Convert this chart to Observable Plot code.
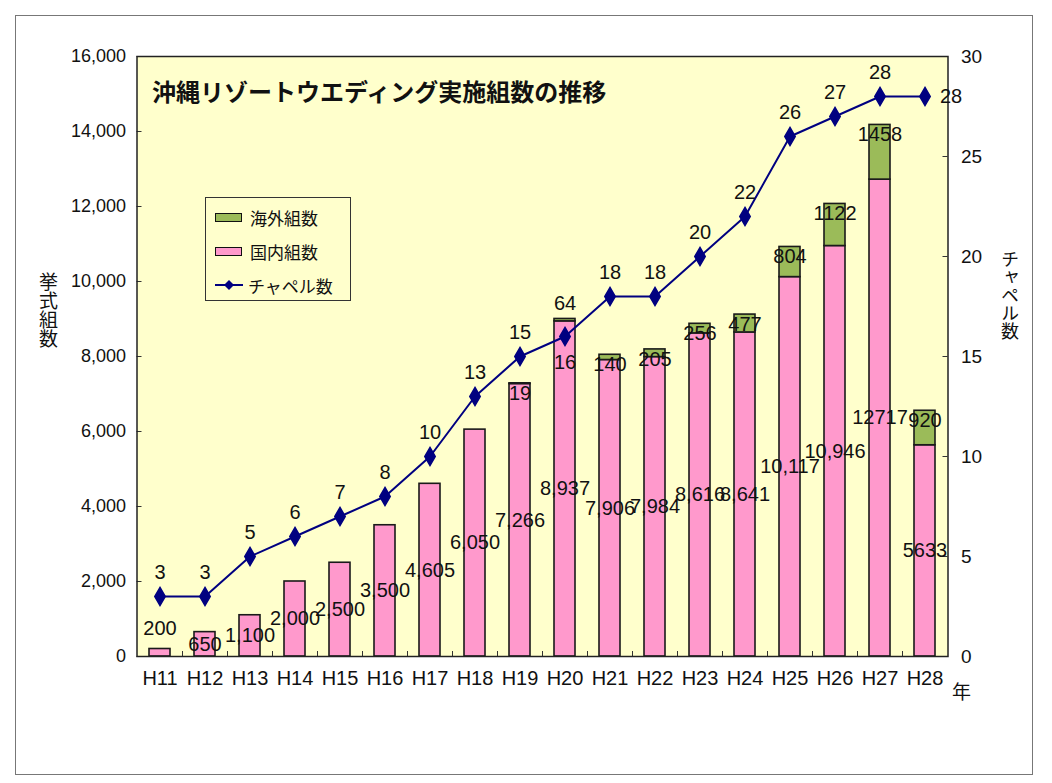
<!DOCTYPE html>
<html><head><meta charset="utf-8">
<script src="https://cdn.jsdelivr.net/npm/d3@7"></script>
<script src="https://cdn.jsdelivr.net/npm/@observablehq/plot@0.6"></script>
<style>
body{margin:0;background:#fff;font-family:"Liberation Sans","Noto Sans CJK JP",sans-serif;color:#111;}
#wrap{position:relative;width:1052px;height:783px;overflow:hidden;}
#outer{position:absolute;left:15px;top:15px;width:1018px;height:760px;border:1px solid #777;box-sizing:border-box;}
#chart{position:absolute;left:0;top:0;}
#title{position:absolute;left:152px;top:76px;font-family:"Noto Sans CJK JP",sans-serif;font-weight:bold;font-size:24px;line-height:30px;color:#111;white-space:nowrap;}
.vt{position:absolute;font-family:"Noto Sans CJK JP",sans-serif;writing-mode:vertical-rl;text-orientation:upright;letter-spacing:0px;color:#111;}
#ylab{left:37px;top:272px;font-size:19px;line-height:22px;}
#y2lab{left:999px;top:250px;font-size:18px;line-height:22px;}
#xlab{position:absolute;left:952px;top:677px;font-family:"Noto Sans CJK JP",sans-serif;font-size:19px;}
#legend{position:absolute;left:205px;top:197px;width:146px;height:104px;border:1px solid #333;box-sizing:border-box;background:#FFFFCC;font-family:"Noto Sans CJK JP",sans-serif;font-size:17px;}
.row{position:absolute;left:9px;height:22px;display:flex;align-items:center;}
.sw{width:25px;height:7px;border:1.5px solid #111;margin-right:8px;}
.ln{width:28px;height:22px;margin-right:5px;}
</style></head>
<body>
<div id="wrap">
  <div id="outer"></div>
  <div id="chart"></div>
  <div id="title">沖縄リゾートウエディング実施組数の推移</div>
  <div id="ylab" class="vt">挙式組数</div>
  <div id="y2lab" class="vt">チャペル数</div>
  <div id="xlab">年</div>
  <div id="legend"></div>
</div>
<script>
const years = ["H11","H12","H13","H14","H15","H16","H17","H18","H19","H20","H21","H22","H23","H24","H25","H26","H27","H28"];
const domestic = [200,650,1100,2000,2500,3500,4605,6050,7266,8937,7906,7984,8616,8641,10117,10946,12717,5633];
const overseas = [0,0,0,0,0,0,0,0,19,64,140,205,256,477,804,1122,1458,920];
const chapels = [3,3,5,6,7,8,10,13,15,16,18,18,20,22,26,27,28,28];
const domesticLabels = ["200","650","1,100","2,000","2,500","3,500","4,605","6,050","7,266","8,937","7,906","7,984","8,616","8,641","10,117","10,946","12717","5633"];
const leftTicks = [0,2000,4000,6000,8000,10000,12000,14000,16000];
const rightTicks = [0,5,10,15,20,25,30];
const seriesNames = ["海外組数","国内組数","チャペル数"];
const colors = {"海外組数":"#9BBB59","国内組数":"#FF99CC","line":"#000080"};

const K = 16000/30;
const W = 1052, H = 783, mL = 136.5, mR = 104.5, mT = 56, mB = 127;
const plotW = W - mL - mR, plotH = H - mT - mB;

const rows = years.map((year,i)=>{
  const total = domestic[i]+overseas[i];
  return {year, domestic:domestic[i], overseas:overseas[i], total, chapel:chapels[i],
    dlabel:domesticLabels[i], idx:i, inside: chapels[i]*K < total && chapels[i]*K > domestic[i]*0.5};
});
const stacked = years.flatMap((year,i)=>[
  {year, type:"国内組数", value:domestic[i]},
  {year, type:"海外組数", value:overseas[i]}
]).filter(d=>d.value>0);
const n = rows.length;
const fs = 20;

const chart = Plot.plot({
  width:W, height:H,
  marginLeft:mL, marginRight:mR, marginTop:mT, marginBottom:mB,
  style:{background:"transparent", fontFamily:'"Liberation Sans","Noto Sans CJK JP",sans-serif', fontSize:"20px", color:"#111", overflow:"visible"},
  x:{domain:years, paddingInner:0.54, paddingOuter:0.27, label:null},
  y:{domain:[0,16000], label:null},
  color:{domain:["海外組数","国内組数"], range:[colors["海外組数"], colors["国内組数"]]},
  marks:[
    Plot.frame({fill:"#FFFFCC"}),
    Plot.barY(stacked, {x:"year", y:"value", fill:"type", stroke:"#1a1a1a", strokeWidth:1.6}),
    Plot.ruleY(leftTicks, {stroke:"#333", insetRight:plotW-5}),
    Plot.ruleY(rightTicks.map(v=>v*K), {stroke:"#333", insetLeft:plotW-5}),
    Plot.tickX(years.slice(0,-1), {x:d=>d, dx:22.5, insetTop:plotH-5, stroke:"#333"}),
    Plot.frame({stroke:"#222", strokeWidth:1.5}),
    Plot.axisY({ticks:leftTicks, tickSize:0, tickPadding:11, tickFormat:d3.format(","), fontSize:18, label:null}),
    Plot.axisY({anchor:"right", ticks:rightTicks.map(v=>v*K), tickFormat:d=>Math.round(d/K), tickSize:0, tickPadding:13, fontSize:19, label:null}),
    Plot.axisX({tickSize:0, tickPadding:14, fontSize:20, label:null}),
    Plot.line(rows, {x:"year", y:d=>d.chapel*K, stroke:colors.line, strokeWidth:2}),
    Plot.dot(rows, {x:"year", y:d=>d.chapel*K, symbol:"diamond", fill:colors.line, stroke:colors.line, r:5.5}),
    // domestic labels
    Plot.text(rows.filter(d=>d.domestic>=500), {x:"year", y:d=>d.domestic/2, text:"dlabel", fontSize:fs, fill:"#111"}),
    Plot.text(rows.filter(d=>d.domestic<500), {x:"year", y:"domestic", text:"dlabel", dy:-20, fontSize:fs, fill:"#111"}),
    // overseas labels
    Plot.text(rows.filter(d=>d.overseas>0 && !d.inside), {x:"year", y:"total", text:d=>String(d.overseas), dy:10, fontSize:fs, fill:"#111"}),
    Plot.text(rows.filter(d=>d.overseas>0 && d.inside), {x:"year", y:"total", text:d=>String(d.overseas), dy:-15, fontSize:fs, fill:"#111"}),
    // chapel labels
    Plot.text(rows.filter(d=>d.idx<n-1 && !d.inside), {x:"year", y:d=>d.chapel*K, text:d=>String(d.chapel), dy:-24, fontSize:fs, fill:"#111"}),
    Plot.text(rows.filter(d=>d.idx<n-1 && d.inside), {x:"year", y:d=>d.chapel*K, text:d=>String(d.chapel), dy:26, fontSize:fs, fill:"#111"}),
    Plot.text(rows.filter(d=>d.idx===n-1), {x:"year", y:d=>d.chapel*K, text:d=>String(d.chapel), dx:26, fontSize:fs, fill:"#111"})
  ]
});
document.getElementById("chart").appendChild(chart);

// legend
const lg = document.getElementById("legend");
seriesNames.forEach((name,i)=>{
  const r = document.createElement("div");
  r.className = "row";
  r.style.top = (8 + i*34) + "px";
  if (i < 2) {
    const s = document.createElement("div");
    s.className = "sw";
    s.style.background = colors[name];
    r.appendChild(s);
  } else {
    const s = document.createElementNS("http://www.w3.org/2000/svg","svg");
    s.setAttribute("class","ln");
    s.setAttribute("width","28"); s.setAttribute("height","22");
    s.innerHTML = `<line x1="0" x2="28" y1="11" y2="11" stroke="${colors.line}" stroke-width="2"/><path d="M14,6 L19,11 L14,16 L9,11Z" fill="${colors.line}"/>`;
    r.appendChild(s);
  }
  const t = document.createElement("span");
  t.textContent = name;
  r.appendChild(t);
  lg.appendChild(r);
});
</script>
</body></html>
